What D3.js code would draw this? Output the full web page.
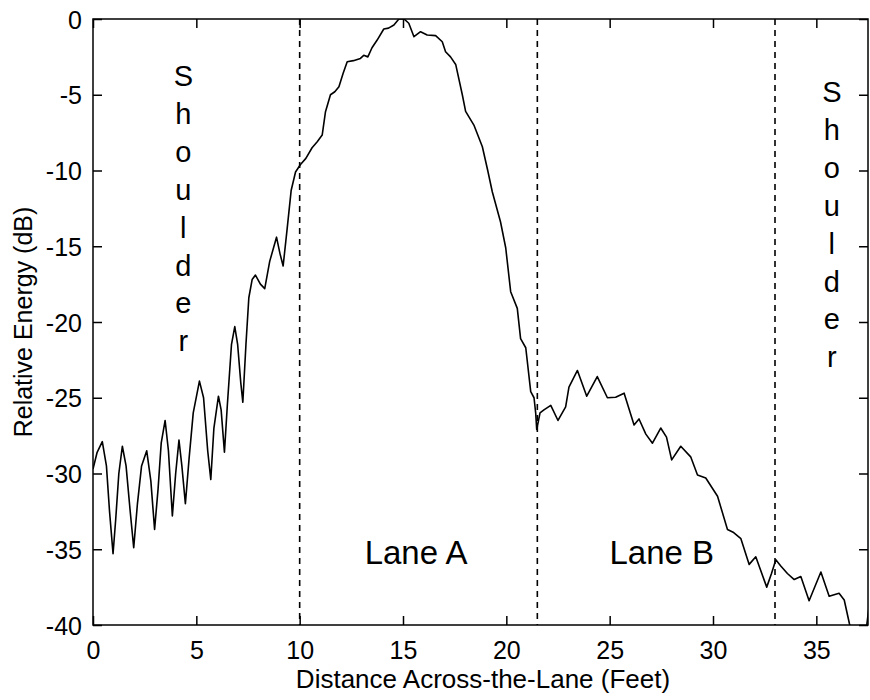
<!DOCTYPE html>
<html>
<head>
<meta charset="utf-8">
<script src="https://cdn.jsdelivr.net/npm/d3@7"></script>
<style>
  body { margin: 0; background: #fff; }
  text { font-family: "Liberation Sans", Arial, sans-serif; fill: #000; }
</style>
</head>
<body>
<div id="chart"></div>
<script>
// distance across the lane (feet) and relative energy (dB)
var distFeet = [
    0, 0.2, 0.45, 0.65, 0.8, 0.97, 1.1, 1.25, 1.42, 1.6, 1.8, 1.97, 2.15, 2.35, 2.6, 2.8,
    2.98, 3.15, 3.3, 3.49, 3.65, 3.84, 4.0, 4.16, 4.3, 4.47, 4.65, 4.85, 5.15, 5.35, 5.55,
    5.7, 5.85, 6.07, 6.2, 6.36, 6.5, 6.7, 6.86, 7.0, 7.15, 7.25, 7.4, 7.54, 7.7, 7.86, 8.1,
    8.31, 8.55, 8.88, 9.05, 9.2, 9.39, 9.59, 9.8, 10.04, 10.3, 10.6, 10.85, 11.09, 11.25,
    11.49, 11.7, 11.9, 12.1, 12.3, 12.6, 12.94, 13.1, 13.3, 13.5, 13.75, 14.07, 14.3, 14.56,
    14.8, 15.05, 15.28, 15.53, 15.85, 16.17, 16.58, 16.9, 17.06, 17.3, 17.55, 17.87, 18.03,
    18.43, 18.84, 19.1, 19.32, 19.72, 19.97, 20.21, 20.53, 20.69, 20.94, 21.18, 21.34, 21.42,
    21.47, 21.63, 21.82, 22.15, 22.5, 22.87, 23.03, 23.44, 23.89, 24.4, 24.89, 25.29, 25.7,
    26.18, 26.42, 26.75, 27.07, 27.47, 27.75, 28.0, 28.44, 28.92, 29.25, 29.65, 30.22, 30.7,
    31.0, 31.35, 31.75, 32.07, 32.6, 32.83, 33.04, 33.28, 33.6, 33.93, 34.25, 34.65, 35.22,
    35.62, 36.1, 36.35, 36.6, 36.9, 37.15, 37.35, 37.55
];
var energyDb = [
    -29.7, -28.6, -27.9, -29.5, -32.5, -35.3, -33.0, -30.0, -28.2, -29.5, -32.5, -34.9, -32.0, -29.5, -28.5, -30.5,
    -33.7, -31.0, -28.0, -26.5, -28.5, -32.8, -30.0, -27.8, -29.5, -32.0, -29.0, -26.0, -23.9, -25.0, -28.5,
    -30.4, -27.0, -24.9, -25.8, -28.6, -25.5, -21.5, -20.3, -21.5, -24.0, -25.3, -21.5, -18.4, -17.2, -16.9, -17.5,
    -17.8, -16.0, -14.4, -15.5, -16.3, -13.9, -11.3, -10.1, -9.6, -9.2, -8.5, -8.1, -7.66, -6.12,
    -5.0, -4.8, -4.47, -3.6, -2.82, -2.75, -2.6, -2.4, -2.5, -1.9, -1.39, -0.66, -0.6, -0.4,
    0, 0, -0.28, -1.17, -0.84, -1.06, -1.1, -1.5, -2.16, -2.5, -3.0, -5.0, -6.1,
    -7.0, -8.43, -10.0, -11.4, -13.4, -15.1, -18.0, -19.1, -21.1, -21.7, -24.6, -25.0, -26.0,
    -27.1, -26.0, -25.8, -25.5, -26.5, -25.6, -24.3, -23.2, -24.9, -23.6, -25.0, -24.97, -24.7,
    -26.8, -26.4, -27.4, -28.0, -27.0, -27.6, -29.1, -28.2, -28.9, -30.1, -30.3, -31.5, -33.7,
    -33.9, -34.3, -36.0, -35.5, -37.5, -36.6, -35.7, -36.1, -36.6, -37.0, -36.8, -38.4, -36.5,
    -38.1, -37.9, -38.35, -39.9, -41.5, -42.0, -41.0, -38.8
];
var laneBounds = [10, 21.5, 33];
var xTicks = [0, 5, 10, 15, 20, 25, 30, 35];
var yTicks = [-40, -35, -30, -25, -20, -15, -10, -5, 0];
var laneNames = ["Lane A", "Lane B"];
var laneNameX = [15.63, 27.52];
var shoulderWord = "Shoulder";
var shoulderX = [4.37, 35.75];

var width = 870;
var height = 700;
var plotLeft = 93, plotRight = 868, plotTop = 19, plotBottom = 625;
var tickLen = 9;

var x = d3.scaleLinear().domain([0, 37.5]).range([plotLeft, plotRight]);
var y = d3.scaleLinear().domain([-40, 0]).range([plotBottom, plotTop]);

var svg = d3.select("#chart")
    .append("svg")
    .attr("width", width)
    .attr("height", height);

svg.append("clipPath")
    .attr("id", "plot-clip")
    .append("rect")
    .attr("x", plotLeft)
    .attr("y", plotTop)
    .attr("width", plotRight - plotLeft)
    .attr("height", plotBottom - plotTop);

// lane boundaries
svg.selectAll("line.lane")
    .data(laneBounds)
    .enter()
    .append("line")
    .attr("class", "lane")
    .attr("x1", function(d){ return x(d); })
    .attr("x2", function(d){ return x(d); })
    .attr("y1", y(0))
    .attr("y2", y(-40))
    .attr("stroke", "#000")
    .attr("stroke-width", 1.6)
    .attr("stroke-dasharray", "6,5");

// the energy curve
var points = distFeet.map(function(d, i){ return [d, energyDb[i]]; });
var line = d3.line()
    .x(function(d){ return x(d[0]); })
    .y(function(d){ return y(d[1]); });

svg.append("path")
    .datum(points)
    .attr("clip-path", "url(#plot-clip)")
    .attr("d", line)
    .attr("fill", "none")
    .attr("stroke", "#000")
    .attr("stroke-width", 1.6)
    .attr("stroke-linejoin", "round");

// axes, matlab style box with inward ticks on all sides
var plainNum = function(d){ return String(d); };
var xAxis = svg.append("g")
    .attr("transform", "translate(0," + plotBottom + ")")
    .call(d3.axisBottom(x).tickValues(xTicks).tickSize(-tickLen).tickPadding(16).tickFormat(plainNum));
var xTop = svg.append("g")
    .attr("transform", "translate(0," + plotTop + ")")
    .call(d3.axisTop(x).tickValues(xTicks).tickSize(-tickLen).tickFormat(""));
var yAxis = svg.append("g")
    .attr("transform", "translate(" + plotLeft + ",0)")
    .call(d3.axisLeft(y).tickValues(yTicks).tickSize(-tickLen).tickPadding(11).tickFormat(plainNum));
var yRight = svg.append("g")
    .attr("transform", "translate(" + plotRight + ",0)")
    .call(d3.axisRight(y).tickValues(yTicks).tickSize(-tickLen).tickFormat(""));

svg.selectAll(".domain").remove();
svg.selectAll(".tick line").attr("stroke", "#000").attr("stroke-width", 1.5);
svg.selectAll(".tick text")
    .style("font-family", "'Liberation Sans', Arial, sans-serif")
    .style("font-size", "25px")
    .attr("fill", "#000");
xAxis.selectAll(".tick text").attr("dy", "0.71em");
yAxis.selectAll(".tick text").attr("dy", "0.36em");

svg.append("rect")
    .attr("x", plotLeft)
    .attr("y", plotTop)
    .attr("width", plotRight - plotLeft)
    .attr("height", plotBottom - plotTop)
    .attr("fill", "none")
    .attr("stroke", "#000")
    .attr("stroke-width", 1.5);

// labels inside the plot
svg.selectAll("text.lane-name")
    .data(laneNames)
    .enter()
    .append("text")
    .attr("class", "lane-name")
    .attr("x", function(d, i){ return x(laneNameX[i]); })
    .attr("y", y(-35.97))
    .attr("text-anchor", "middle")
    .style("font-size", "33px")
    .text(function(d){ return d; });

var shoulderTop = [86, 102];
shoulderX.forEach(function(sx, k){
    svg.append("g")
        .selectAll("text")
        .data(shoulderWord.split(""))
        .enter()
        .append("text")
        .attr("x", x(sx))
        .attr("y", function(d, i){ return shoulderTop[k] + i * 37.9; })
        .attr("text-anchor", "middle")
        .style("font-size", "29px")
        .text(function(d){ return d; });
});

// axis titles
svg.append("text")
    .attr("x", 483)
    .attr("y", 688)
    .attr("text-anchor", "middle")
    .style("font-size", "26px")
    .text("Distance Across-the-Lane (Feet)");

svg.append("text")
    .attr("transform", "translate(32," + (plotTop + plotBottom) / 2 + ") rotate(-90)")
    .attr("text-anchor", "middle")
    .style("font-size", "25px")
    .text("Relative Energy (dB)");
</script>
</body>
</html>
